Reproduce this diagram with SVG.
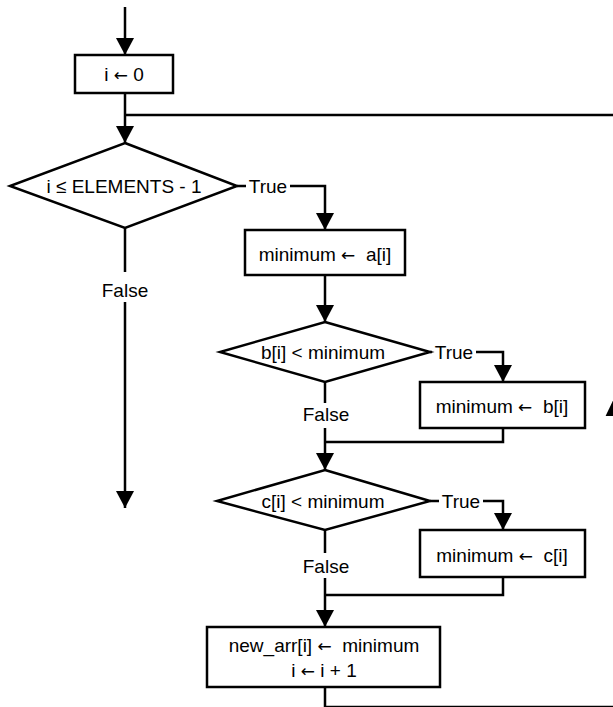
<svg xmlns="http://www.w3.org/2000/svg" width="613" height="707" viewBox="0 0 613 707">
<style>
  .shape { fill: #ffffff; stroke: #000000; stroke-width: 2.5; }
  .conn { fill: none; stroke: #000000; stroke-width: 2.5; }
  .txt { font-family: "Liberation Sans", Arial, sans-serif; font-size: 19px; fill: #000000; text-anchor: middle; white-space: pre; }
  .arw { font-family: "DejaVu Sans", sans-serif; font-size: 17px; }
  .bg { fill: #ffffff; stroke: none; }
</style>
<defs>
  <marker id="arrow" markerUnits="userSpaceOnUse" markerWidth="17" markerHeight="18" viewBox="0 0 17 18" refX="17" refY="9" orient="auto">
    <path d="M0,0 L17,9 L0,18 Z" fill="#000000"/>
  </marker>
</defs>
<rect x="0" y="0" width="613" height="707" fill="#ffffff"/>

<g id="connectors">
  <path class="conn" d="M125,7 V55" marker-end="url(#arrow)"/>
  <path class="conn" d="M125,93 V143" marker-end="url(#arrow)"/>
  <path class="conn" d="M237,186 H325 V230" marker-end="url(#arrow)"/>
  <path class="conn" d="M125,228 V508" marker-end="url(#arrow)"/>
  <path class="conn" d="M325,275 V322" marker-end="url(#arrow)"/>
  <path class="conn" d="M430,352 H503 V382" marker-end="url(#arrow)"/>
  <path class="conn" d="M325,382 V470" marker-end="url(#arrow)"/>
  <path class="conn" d="M503,428 V442 H325"/>
  <path class="conn" d="M430,501 H503 V530" marker-end="url(#arrow)"/>
  <path class="conn" d="M325,530 V627" marker-end="url(#arrow)"/>
  <path class="conn" d="M503,577 V595 H325"/>
  <path class="conn" d="M325,687 V707 H614.6 V115 H125"/>
  <path d="M614.6,397 L623.6,416 L605.6,416 Z" fill="#000000"/>
  <g id="label-true-1"><rect class="bg" x="246" y="176" width="44" height="20"/><text class="txt" x="268" y="193">True</text></g>
  <g id="label-false-1"><rect class="bg" x="100" y="272" width="50" height="30"/><text class="txt" x="125" y="297">False</text></g>
  <g id="label-true-2"><rect class="bg" x="432" y="342" width="44" height="20"/><text class="txt" x="454" y="359">True</text></g>
  <g id="label-false-2"><rect class="bg" x="301" y="403" width="50" height="25"/><text class="txt" x="326" y="421">False</text></g>
  <g id="label-true-3"><rect class="bg" x="439" y="491" width="44" height="20"/><text class="txt" x="461" y="508">True</text></g>
  <g id="label-false-3"><rect class="bg" x="301" y="553" width="50" height="25"/><text class="txt" x="326" y="573">False</text></g>
</g>

<g id="init">
  <rect class="shape" x="75" y="55" width="98" height="38"/>
  <text class="txt" x="124" y="81">i <tspan class="arw">←</tspan> 0</text>
</g>
<g id="cond-loop">
  <polygon class="shape" points="125,143 237,186 125,228 10,186"/>
  <text class="txt" x="124" y="193">i ≤ ELEMENTS - 1</text>
</g>
<g id="set-a">
  <rect class="shape" x="245" y="230" width="160" height="45"/>
  <text class="txt" x="325" y="261">minimum <tspan class="arw">←</tspan>  a[i]</text>
</g>
<g id="cond-b">
  <polygon class="shape" points="325,322 430,352 325,382 220,352"/>
  <text class="txt" x="323" y="359">b[i] &lt; minimum</text>
</g>
<g id="set-b">
  <rect class="shape" x="420" y="382" width="165" height="46"/>
  <text class="txt" x="502" y="413">minimum <tspan class="arw">←</tspan>  b[i]</text>
</g>
<g id="cond-c">
  <polygon class="shape" points="325,470 430,501 325,530 217,501"/>
  <text class="txt" x="323" y="508">c[i] &lt; minimum</text>
</g>
<g id="set-c">
  <rect class="shape" x="420" y="530" width="165" height="47"/>
  <text class="txt" x="502" y="562">minimum <tspan class="arw">←</tspan>  c[i]</text>
</g>
<g id="store">
  <rect class="shape" x="207" y="627" width="233" height="60"/>
  <text class="txt" x="324" y="652">new_arr[i] <tspan class="arw">←</tspan>  minimum</text>
  <text class="txt" x="324" y="677">i <tspan class="arw">←</tspan> i + 1</text>
</g>
</svg>
